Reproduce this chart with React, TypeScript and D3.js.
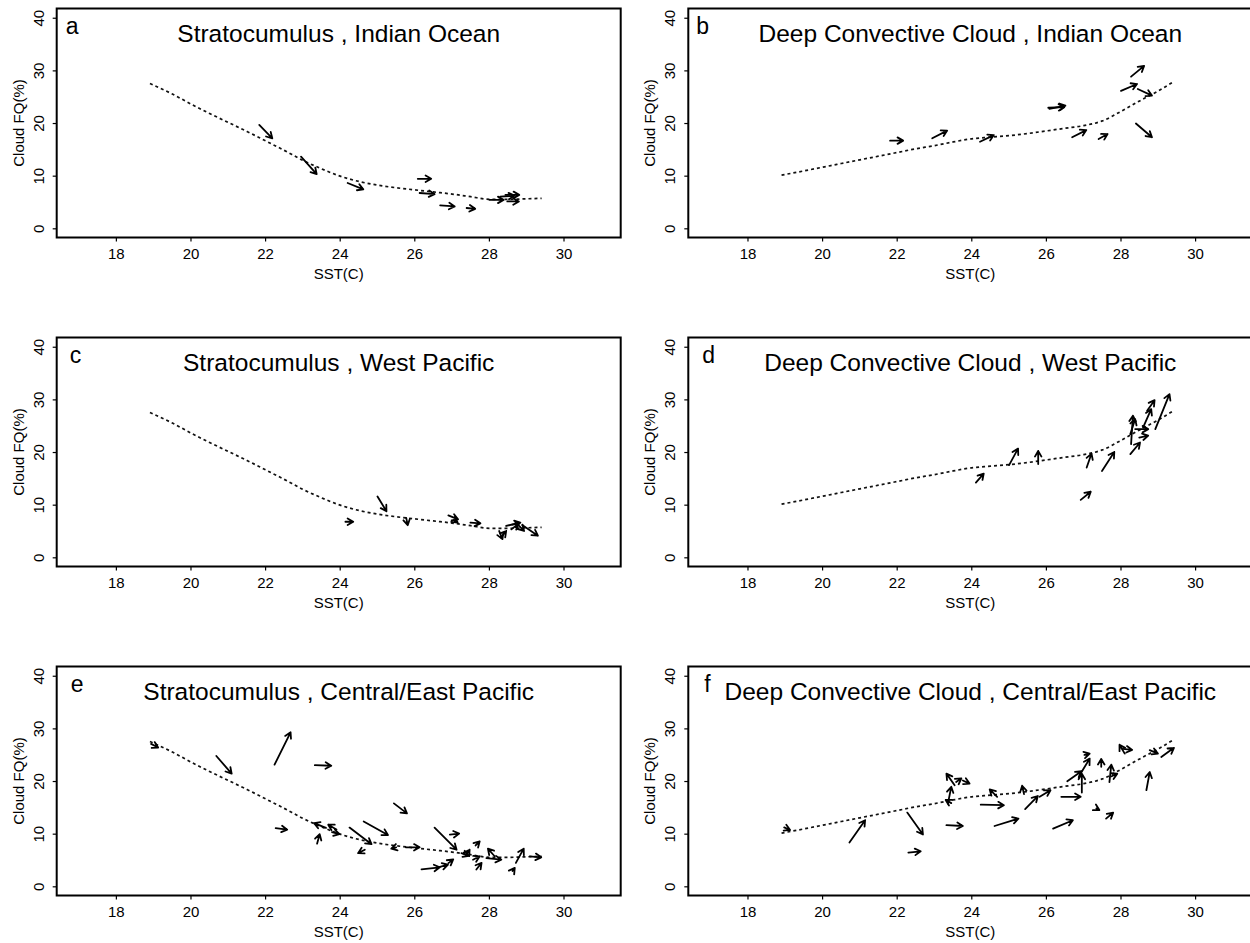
import React from "react";
import * as d3 from "d3";

// shared fit curves
const scCurveSst = [18.9, 19.5, 20, 20.5, 21, 21.5, 22, 22.5, 23, 23.5, 24, 24.5, 25, 25.5, 26, 26.5, 27, 27.5, 28, 28.5, 29, 29.4];
const scCurveFq = [27.6, 25.6, 23.7, 21.9, 20.2, 18.5, 16.7, 14.9, 13.0, 11.4, 10.0, 9.0, 8.3, 7.8, 7.4, 7.0, 6.6, 6.1, 5.6, 5.6, 5.7, 5.8];
const dcCurveSst = [18.9, 19.5, 20, 20.5, 21, 21.5, 22, 22.5, 23, 23.5, 24, 24.5, 25, 25.5, 26, 26.5, 27, 27.5, 28, 28.5, 29, 29.4];
const dcCurveFq = [10.2, 11.0, 11.7, 12.4, 13.1, 13.8, 14.5, 15.2, 15.8, 16.5, 17.1, 17.4, 17.7, 18.1, 18.6, 19.1, 19.6, 20.5, 22.3, 24.3, 26.2, 27.9];

// arrows: [sst0, fq0, sst1, fq1]
const arrowsA = [
  [21.83, 19.75, 22.18, 17.2],
  [22.95, 13.7, 23.37, 10.4],
  [24.2, 8.7, 24.62, 7.5],
  [26.08, 9.5, 26.44, 9.5],
  [26.13, 6.8, 26.53, 6.6],
  [26.68, 4.45, 27.07, 4.25],
  [27.39, 3.95, 27.62, 3.8],
  [28.0, 5.5, 28.38, 5.5],
  [28.29, 6.1, 28.67, 6.3],
  [28.43, 6.45, 28.8, 6.45],
  [28.48, 5.2, 28.79, 5.2],
];
const arrowsB = [
  [21.81, 16.75, 22.16, 16.75],
  [22.94, 17.2, 23.34, 18.65],
  [24.22, 16.55, 24.59, 17.8],
  [26.05, 23.0, 26.48, 23.1],
  [26.08, 22.8, 26.51, 23.4],
  [26.69, 17.4, 27.07, 18.75],
  [27.4, 17.05, 27.64, 18.0],
  [28.0, 26.2, 28.43, 27.5],
  [28.27, 28.9, 28.62, 30.95],
  [28.45, 26.55, 28.83, 25.3],
  [28.4, 20.0, 28.83, 17.4],
];
const arrowsC = [
  [24.14, 6.85, 24.35, 6.85],
  [25.0, 11.65, 25.24, 8.85],
  [25.77, 7.6, 25.81, 6.2],
  [26.9, 8.05, 27.16, 7.3],
  [27.05, 7.2, 27.15, 6.7],
  [27.49, 6.7, 27.76, 6.55],
  [28.26, 5.1, 28.35, 3.55],
  [28.31, 3.86, 28.45, 5.1],
  [28.45, 6.05, 28.83, 6.7],
  [28.69, 6.85, 28.93, 5.1],
  [28.88, 6.25, 29.3, 4.2],
  [28.59, 5.4, 28.78, 6.5],
];
const arrowsD = [
  [24.11, 14.3, 24.32, 16.0],
  [25.0, 17.6, 25.24, 20.75],
  [25.78, 17.8, 25.78, 20.3],
  [26.92, 11.0, 27.19, 12.55],
  [27.08, 17.15, 27.21, 19.8],
  [27.49, 16.5, 27.82, 20.1],
  [28.25, 19.7, 28.51, 21.9],
  [28.27, 21.6, 28.32, 27.0],
  [28.25, 23.5, 28.38, 26.35],
  [28.38, 24.45, 28.73, 24.45],
  [28.49, 22.85, 28.73, 23.2],
  [28.59, 24.75, 28.81, 28.25],
  [28.7, 27.95, 28.9, 29.95],
  [28.92, 24.45, 29.3, 31.1],
];
const arrowsE = [
  [18.93, 27.15, 19.12, 26.45],
  [20.68, 24.85, 21.09, 21.5],
  [22.24, 23.2, 22.67, 29.35],
  [23.32, 23.1, 23.76, 23.0],
  [22.27, 11.15, 22.58, 10.85],
  [25.44, 15.85, 25.79, 13.95],
  [23.62, 11.2, 23.3, 12.1],
  [23.9, 10.9, 23.68, 11.8],
  [23.78, 10.4, 23.98, 10.0],
  [23.38, 8.2, 23.45, 10.0],
  [24.25, 11.25, 24.84, 8.1],
  [24.63, 12.4, 25.28, 9.85],
  [24.66, 7.05, 24.48, 6.4],
  [25.5, 7.5, 25.37, 7.25],
  [25.76, 7.5, 26.13, 7.5],
  [26.53, 11.25, 27.12, 7.05],
  [26.94, 9.9, 27.19, 10.1],
  [27.38, 6.1, 27.47, 7.05],
  [27.63, 7.85, 27.74, 8.65],
  [27.56, 5.15, 27.74, 5.8],
  [27.65, 3.3, 27.79, 4.55],
  [28.14, 5.8, 27.96, 7.25],
  [27.92, 5.45, 28.32, 5.15],
  [28.71, 4.55, 28.92, 7.25],
  [29.08, 5.8, 29.39, 5.6],
  [26.18, 3.3, 26.67, 3.7],
  [26.58, 3.6, 26.89, 4.2],
  [26.9, 4.5, 27.03, 5.2],
  [28.62, 3.0, 28.68, 3.6],
  [27.25, 6.4, 27.45, 5.9],
];
const arrowsF = [
  [18.97, 11.3, 19.13, 10.8],
  [20.72, 8.4, 21.14, 12.65],
  [22.27, 14.1, 22.69, 9.95],
  [22.3, 6.5, 22.63, 6.75],
  [23.32, 11.7, 23.76, 11.55],
  [23.36, 15.8, 23.45, 19.0],
  [23.54, 19.3, 23.32, 21.5],
  [23.58, 19.9, 23.72, 20.6],
  [23.76, 20.2, 23.94, 19.6],
  [23.45, 15.9, 23.3, 16.5],
  [24.68, 17.1, 24.48, 18.5],
  [24.24, 15.6, 24.86, 15.5],
  [24.61, 11.55, 25.25, 12.95],
  [25.4, 17.6, 25.35, 19.2],
  [25.43, 14.75, 25.77, 17.25],
  [25.82, 17.1, 26.11, 18.35],
  [26.4, 17.1, 26.92, 17.1],
  [26.18, 11.05, 26.71, 12.65],
  [26.56, 20.05, 26.94, 21.95],
  [26.95, 17.9, 26.95, 21.5],
  [26.89, 21.2, 27.16, 24.35],
  [27.02, 25.05, 27.16, 25.3],
  [27.47, 22.8, 27.47, 24.3],
  [27.69, 19.9, 27.74, 23.2],
  [27.75, 21.0, 27.9, 21.5],
  [27.34, 14.9, 27.42, 14.6],
  [27.6, 12.95, 27.79, 14.1],
  [28.1, 25.3, 27.96, 27.0],
  [28.05, 26.2, 28.3, 26.0],
  [28.68, 18.35, 28.77, 21.8],
  [28.77, 25.95, 28.99, 25.3],
  [29.08, 24.65, 29.42, 26.4],
];

const xTicks = [18, 20, 22, 24, 26, 28, 30];
const yTicks = [0, 10, 20, 30, 40];

const panels = [
  { letter: "a", title: "Stratocumulus , Indian Ocean", col: 0, row: 0, cx: scCurveSst, cy: scCurveFq, arrows: arrowsA, letterDx: 9 },
  { letter: "b", title: "Deep Convective Cloud , Indian Ocean", col: 1, row: 0, cx: dcCurveSst, cy: dcCurveFq, arrows: arrowsB, letterDx: 8 },
  { letter: "c", title: "Stratocumulus , West Pacific", col: 0, row: 1, cx: scCurveSst, cy: scCurveFq, arrows: arrowsC, letterDx: 13 },
  { letter: "d", title: "Deep Convective Cloud , West Pacific", col: 1, row: 1, cx: dcCurveSst, cy: dcCurveFq, arrows: arrowsD, letterDx: 14 },
  { letter: "e", title: "Stratocumulus , Central/East Pacific", col: 0, row: 2, cx: scCurveSst, cy: scCurveFq, arrows: arrowsE, letterDx: 14 },
  { letter: "f", title: "Deep Convective Cloud , Central/East Pacific", col: 1, row: 2, cx: dcCurveSst, cy: dcCurveFq, arrows: arrowsF, letterDx: 16 },
];

const colLeft = [56.7, 688.3];
const rowTop = [8.5, 337.5, 666.5];
const boxW = 564;
const boxH = 229;
const font = "'Liberation Sans', Arial, Helvetica, sans-serif";

function Panel({ p }) {
  const left = colLeft[p.col];
  const top = rowTop[p.row];
  const x = d3.scaleLinear().domain([16.4, 31.52]).range([0, boxW]);
  const y = d3.scaleLinear().domain([-1.65, 41.85]).range([boxH, 0]);

  const line = d3
    .line()
    .x((d) => x(d[0]))
    .y((d) => y(d[1]))
    .curve(d3.curveMonotoneX);
  const curvePts = p.cx.map((v, i) => [v, p.cy[i]]);

  const headLen = 6.5;
  const headAng = Math.PI / 6;

  return (
    <g transform={`translate(${left}, ${top})`}>
      <path
        d={line(curvePts)}
        fill="none"
        stroke="#111"
        strokeWidth={1.7}
        strokeDasharray="3,3"
      />
      {p.arrows.map((a, i) => {
        const x0 = x(a[0]);
        const y0 = y(a[1]);
        const x1 = x(a[2]);
        const y1 = y(a[3]);
        const th = Math.atan2(y1 - y0, x1 - x0);
        const h1x = x1 - headLen * Math.cos(th - headAng);
        const h1y = y1 - headLen * Math.sin(th - headAng);
        const h2x = x1 - headLen * Math.cos(th + headAng);
        const h2y = y1 - headLen * Math.sin(th + headAng);
        return (
          <path
            key={i}
            d={`M${x0},${y0}L${x1},${y1}M${h1x},${h1y}L${x1},${y1}L${h2x},${h2y}`}
            fill="none"
            stroke="#000"
            strokeWidth={1.8}
            strokeLinecap="round"
            strokeLinejoin="round"
          />
        );
      })}

      <rect x={0} y={0} width={boxW} height={boxH} fill="none" stroke="#000" strokeWidth={2} />

      {xTicks.map((t) => (
        <g key={"x" + t}>
          <line x1={x(t)} x2={x(t)} y1={boxH} y2={boxH + 4} stroke="#000" strokeWidth={1.2} />
          <text
            x={x(t)}
            y={boxH + 18}
            textAnchor="middle"
            dominantBaseline="middle"
            style={{ fontSize: 15, fontFamily: font }}
          >
            {t}
          </text>
        </g>
      ))}
      {yTicks.map((t) => (
        <g key={"y" + t}>
          <line x1={-4} x2={0} y1={y(t)} y2={y(t)} stroke="#000" strokeWidth={1.2} />
          <text
            transform={`translate(-17, ${y(t)}) rotate(-90)`}
            textAnchor="middle"
            dominantBaseline="middle"
            style={{ fontSize: 15, fontFamily: font }}
          >
            {t}
          </text>
        </g>
      ))}

      <text
        x={boxW / 2}
        y={boxH + 38}
        textAnchor="middle"
        dominantBaseline="middle"
        style={{ fontSize: 15, fontFamily: font }}
      >
        SST(C)
      </text>
      <text
        transform={`translate(-37, ${boxH / 2}) rotate(-90)`}
        textAnchor="middle"
        dominantBaseline="middle"
        style={{ fontSize: 15, fontFamily: font }}
      >
        Cloud FQ(%)
      </text>

      <text x={p.letterDx} y={25} style={{ fontSize: 23, fontFamily: font }}>
        {p.letter}
      </text>
      <text x={boxW / 2} y={33} textAnchor="middle" style={{ fontSize: 24.5, fontFamily: font }}>
        {p.title}
      </text>
    </g>
  );
}

export default function App() {
  return (
    <svg
      width={1250}
      height={943}
      style={{ position: "absolute", left: 0, top: 0, background: "#fff" }}
    >
      <rect width={1250} height={943} fill="#fff" />
      {panels.map((p) => (
        <Panel key={p.letter} p={p} />
      ))}
    </svg>
  );
}
